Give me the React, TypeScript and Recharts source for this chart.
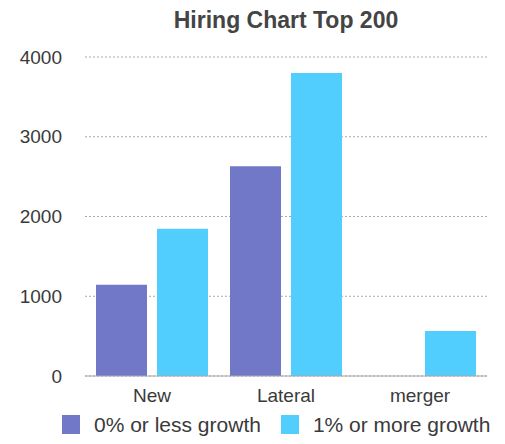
import { BarChart, Bar, XAxis, YAxis, CartesianGrid } from "recharts";

const categories = ["New", "Lateral", "merger"];
const lowGrowth = [1145, 2630, 0];
const highGrowth = [1845, 3800, 565];
const yTicks = [0, 1000, 2000, 3000, 4000];

const SERIES = [
  { key: "low", name: "0% or less growth", color: "#7178C8" },
  { key: "high", name: "1% or more growth", color: "#51CEFD" },
];

const FONT = "'Liberation Sans', Arial, sans-serif";
const TEXT = "#3a3a3a";

const data = categories.map((c, i) => ({ name: c, low: lowGrowth[i], high: highGrowth[i] }));

export default function App() {
  return (
    <div style={{ position: "relative", width: 505, height: 444, margin: -8, fontFamily: FONT, background: "#fff", overflow: "hidden" }}>
      <div
        style={{
          position: "absolute",
          top: 7,
          left: 85,
          width: 402,
          textAlign: "center",
          fontSize: 23,
          fontWeight: "bold",
          color: "#444",
        }}
      >
        Hiring Chart Top 200
      </div>
      <BarChart
        width={505}
        height={444}
        data={data}
        margin={{ top: 57, right: 18, bottom: 38, left: 0 }}
        barCategoryGap={11}
        barGap={10}
      >
        <CartesianGrid vertical={false} stroke="#a8a8a8" strokeDasharray="2 2" />
        <XAxis
          dataKey="name"
          height={30}
          tickLine={false}
          axisLine={{ stroke: "#a8a8a8" }}
          tickMargin={7}
          tick={{ fontSize: 19, fill: TEXT, fontFamily: FONT }}
        />
        <YAxis
          width={85}
          domain={[0, 4000]}
          ticks={yTicks}
          axisLine={false}
          tickLine={false}
          tickMargin={17}
          tick={{ fontSize: 19, fill: TEXT, fontFamily: FONT }}
        />
        {SERIES.map((s) => (
          <Bar key={s.key} dataKey={s.key} name={s.name} fill={s.color} isAnimationActive={false} />
        ))}
      </BarChart>
      <div
        style={{
          position: "absolute",
          top: 414,
          left: 62,
          display: "flex",
          alignItems: "center",
          fontSize: 21,
          lineHeight: "21px",
          color: TEXT,
          whiteSpace: "nowrap",
        }}
      >
        {SERIES.map((s, i) => (
          <div key={s.key} style={{ display: "flex", alignItems: "center", marginRight: i === 0 ? 20 : 0 }}>
            <span style={{ display: "inline-block", width: 18, height: 19, background: s.color, marginRight: 14 }} />
            <span>{s.name}</span>
          </div>
        ))}
      </div>
    </div>
  );
}
